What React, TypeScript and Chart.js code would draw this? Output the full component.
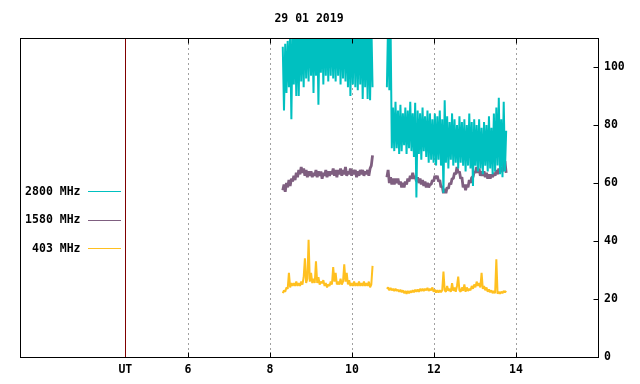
import React, { useEffect, useRef } from "react";
import { Chart, registerables } from "chart.js";

Chart.register(...registerables);

const TITLE = "29 01 2019";
const X_MIN = 1.9;
const X_MAX = 16.0;
const X_TICKS = [6, 8, 10, 12, 14];
const UT_MARK = 4.47;
const UT_LABEL = "UT";
const Y_MIN = 0;
const Y_MAX = 110;
const Y_TICKS = [0, 20, 40, 60, 80, 100];

const SERIES_LABELS = ["2800 MHz", "1580 MHz", "403 MHz"];
const SERIES_COLORS = ["#00c0c0", "#7f5f80", "#ffc020"];
const SERIES_WIDTHS = [2, 2.8, 2];

// sampling: hours UT, one sample every STEP hours
const SEG1_START = 8.31;
const SEG2_START = 10.85;
const STEP = 0.03;
const GAP_AT = 10.7;

const F2800_SEG1 = [
  107, 85, 108, 91, 109, 93, 112, 82, 115, 94,
  113, 90, 116, 90, 118, 95, 115, 93, 118, 96,
  116, 95, 117, 97, 116, 91, 118, 97, 116, 87,
  117, 98, 115, 94, 118, 97, 116, 95, 117, 97,
  116, 96, 118, 95, 116, 97, 117, 94, 116, 96,
  118, 95, 116, 93, 117, 90, 116, 94, 118, 93,
  116, 92, 117, 94, 116, 89, 117, 93, 116, 89,
  117, 88.5, 116, 93,
];
const F2800_SEG2 = [
  93, 116, 92, 114, 72, 86, 71, 88, 72, 85,
  70, 87, 71, 84, 73, 86, 70, 85, 72, 88,
  71, 84, 69, 87.7, 55, 85, 70, 84, 68, 86,
  71, 83, 69, 85, 67, 84, 68, 82, 67, 84,
  66, 83, 68, 85, 66, 82, 56.6, 88.5, 67, 83,
  65, 81, 68, 84, 66, 82, 67, 80, 65, 83,
  67, 81, 66, 82, 64, 80, 66, 84, 65, 81,
  59, 82, 66, 80, 64, 82, 65, 79, 63, 81,
  66, 80, 64, 83, 65, 79, 63, 84, 64, 86,
  66, 89.4, 63, 82, 62, 88, 64, 78,
];

const F1580_SEG1 = [
  57.5, 59.5, 57, 60, 58.5, 61, 59, 61.5, 60.5, 62.5,
  61, 63.5, 62, 64.5, 63, 65.5, 63.5, 65, 62.5, 64.5,
  62, 64, 62.5, 64, 62, 63.5, 62.5, 64.5, 62, 64,
  62.5, 64, 61.5, 63.5, 62.5, 64.5, 62, 64, 62.5, 64,
  63, 65, 62.5, 64.5, 62, 64.5, 63, 65, 62.5, 64.5,
  63, 65.5, 62.5, 64, 63, 65, 62.5, 64.5, 63, 64.5,
  62, 64, 62.5, 64.5, 63, 64.5, 62.5, 64, 63, 64.5,
  62.5, 65, 66, 69.5,
];
const F1580_SEG2 = [
  62, 64.5, 60, 62, 59.5, 61.5, 59.5, 61.5, 60, 61.5,
  59.5, 60.5, 58.5, 60, 58.5, 60.5, 59.5, 61.5, 60.5, 62.5,
  61.5, 63.5, 61.5, 62.5, 60.5, 62, 60, 61.5, 59.5, 61,
  59, 60.5, 58.5, 60, 58.5, 59.5, 59.5, 61, 60.5, 62.5,
  61.5, 62.5, 60.5, 61, 58.5, 59, 56.5, 58, 56.5, 58.5,
  58, 60, 59.5, 61.5, 61.5, 63.5, 63, 65.5, 63.5, 64,
  61.5, 62, 58.5, 59.5, 57.5, 59.5, 58.5, 61, 60, 62,
  62, 64, 63.5, 65.5, 63.5, 65, 62.5, 64, 62.5, 64,
  62, 63.5, 61.5, 63, 61.5, 63, 62, 63.5, 62.5, 64.5,
  63, 65, 63.5, 65.5, 64, 66, 67.5, 63.5,
];

const F403_SEG1 = [
  22, 23, 22.5, 24, 23.5, 29, 24, 25.5, 24.5, 25.5,
  24.5, 26, 24.5, 25.5, 24.5, 26, 25, 27.5, 34, 25.5,
  27, 40.4, 26, 29, 25.5, 27, 25.5, 33, 25.5, 27.5,
  25, 26, 25.5, 26.5, 24.5, 25.5, 24, 25, 24.5, 26,
  25, 31, 26, 29, 25, 26, 25, 27, 25, 26,
  32, 26, 29, 25, 26.5, 24.5, 25.5, 24.5, 26, 24.5,
  25.5, 24.5, 26, 24.5, 25.5, 24.5, 26, 24.5, 25.5, 24.5,
  26, 24, 25, 31.4,
];
const F403_SEG2 = [
  23.5, 24, 23, 23.8, 23, 23.5, 22.8, 23.5, 22.8, 23.2,
  22.5, 23.2, 22.3, 23, 22, 22.8, 21.8, 22.8, 22, 22.8,
  22.2, 23, 22.3, 23.2, 22.5, 23.3, 22.5, 23.5, 22.8, 23.5,
  22.8, 23.5, 23, 23.8, 22.8, 23.5, 23, 24, 22.5, 23.2,
  22.2, 23, 22.2, 23, 22.3, 23, 29.5, 23, 22.5, 24.5,
  22.8, 23.5, 22.5, 25.5, 22.8, 24, 22.5, 24.5, 27.7, 23,
  22.5, 24, 22.8, 25, 22.5, 24, 22.8, 23.5, 23, 24.5,
  23.5, 25, 24, 26, 24.5, 25.5, 24, 29, 23.5, 24.5,
  23, 24, 22.5, 23.3, 22.3, 23, 22, 22.8, 22, 33.7,
  21.8, 22.5, 21.8, 22.5, 22, 22.8, 22.3, 22.8,
];

const FONT_FAMILY = "'DejaVu Sans Mono', 'Liberation Mono', monospace";
const FONT_SIZE = 11.5;

function buildPoints(seg1: number[], seg2: number[]) {
  const pts: { x: number; y: number | null }[] = [];
  seg1.forEach((v, i) => pts.push({ x: SEG1_START + i * STEP, y: v }));
  pts.push({ x: GAP_AT, y: null });
  seg2.forEach((v, i) => pts.push({ x: SEG2_START + i * STEP, y: v }));
  return pts;
}

const decorPlugin = {
  id: "decor",
  afterDraw(chart: any) {
    const { ctx, chartArea } = chart;
    const xs = chart.scales.x;
    const ys = chart.scales.y;
    const L = Math.round(chartArea.left) + 0.5;
    const R = Math.round(chartArea.right) + 0.5;
    const T = Math.round(chartArea.top) + 0.5;
    const B = Math.round(chartArea.bottom) + 0.5;
    ctx.save();
    // UT marker line
    const ux = Math.round(xs.getPixelForValue(UT_MARK)) + 0.5;
    ctx.strokeStyle = "#800000";
    ctx.lineWidth = 1;
    ctx.beginPath();
    ctx.moveTo(ux, T);
    ctx.lineTo(ux, B);
    ctx.stroke();
    // frame
    ctx.strokeStyle = "#000";
    ctx.strokeRect(L, T, R - L, B - T);
    // tick marks (inward)
    ctx.beginPath();
    X_TICKS.forEach((v) => {
      const px = Math.round(xs.getPixelForValue(v)) + 0.5;
      ctx.moveTo(px, T);
      ctx.lineTo(px, T + 5);
      ctx.moveTo(px, B);
      ctx.lineTo(px, B - 5);
    });
    Y_TICKS.forEach((v) => {
      const py = Math.round(ys.getPixelForValue(v)) + 0.5;
      ctx.moveTo(R, py);
      ctx.lineTo(R - 5, py);
    });
    ctx.stroke();
    // texts
    ctx.fillStyle = "#000";
    ctx.font = `bold ${FONT_SIZE}px ${FONT_FAMILY}`;
    ctx.textBaseline = "middle";
    ctx.textAlign = "center";
    ctx.fillText(TITLE, (chartArea.left + chartArea.right) / 2, 19);
    ctx.fillText(UT_LABEL, xs.getPixelForValue(UT_MARK), 370);
    // legend
    ctx.textAlign = "right";
    chart.data.datasets.forEach((ds: any, i: number) => {
      const y = 191 + i * 28.5;
      ctx.fillStyle = "#000";
      ctx.fillText(ds.label, 80.5, y + 1);
      ctx.strokeStyle = ds.borderColor;
      ctx.lineWidth = 1;
      ctx.beginPath();
      ctx.moveTo(88, Math.round(y) + 0.5);
      ctx.lineTo(121, Math.round(y) + 0.5);
      ctx.stroke();
    });
    ctx.restore();
  },
};

export default function App() {
  const ref = useRef<HTMLCanvasElement | null>(null);
  useEffect(() => {
    if (!ref.current) return;
    const series = [
      buildPoints(F2800_SEG1, F2800_SEG2),
      buildPoints(F1580_SEG1, F1580_SEG2),
      buildPoints(F403_SEG1, F403_SEG2),
    ];
    const chart = new Chart(ref.current, {
      type: "line",
      data: {
        datasets: series.map((pts, i) => ({
          label: SERIES_LABELS[i],
          data: pts as any,
          borderColor: SERIES_COLORS[i],
          backgroundColor: SERIES_COLORS[i],
          borderWidth: SERIES_WIDTHS[i],
          borderJoinStyle: "bevel",
          pointRadius: 0,
          tension: 0,
          spanGaps: false,
          clip: 0,
        })),
      },
      options: {
        animation: false,
        responsive: false,
        devicePixelRatio: 1,
        layout: { padding: { left: 20, top: 38, right: 0, bottom: 0 } },
        plugins: {
          legend: { display: false },
          tooltip: { enabled: false },
          title: { display: false },
        },
        scales: {
          x: {
            type: "linear",
            position: "bottom",
            min: X_MIN,
            max: X_MAX,
            afterBuildTicks: (s: any) => {
              s.ticks = X_TICKS.map((v) => ({ value: v }));
            },
            afterFit: (s: any) => {
              s.height = 27;
            },
            grid: {
              color: "#a0a0a0",
              lineWidth: 1,
              drawTicks: false,
            },
            border: { display: false, dash: [2, 3] },
            ticks: {
              color: "#000",
              padding: 6,
              maxRotation: 0,
              autoSkip: false,
              font: { family: FONT_FAMILY, size: FONT_SIZE, weight: "bold" },
            },
          },
          y: {
            type: "linear",
            position: "right",
            min: Y_MIN,
            max: Y_MAX,
            afterBuildTicks: (s: any) => {
              s.ticks = Y_TICKS.map((v) => ({ value: v }));
            },
            afterFit: (s: any) => {
              s.width = 42;
            },
            grid: { display: false, drawTicks: false },
            border: { display: false },
            ticks: {
              color: "#000",
              padding: 6,
              font: { family: FONT_FAMILY, size: FONT_SIZE, weight: "bold" },
            },
          },
        },
      },
      plugins: [decorPlugin],
    } as any);
    return () => chart.destroy();
  }, []);
  return (
    <div style={{ position: "absolute", left: 0, top: 0, width: 640, height: 384, background: "#fff" }}>
      <canvas ref={ref} width={640} height={384} />
    </div>
  );
}
